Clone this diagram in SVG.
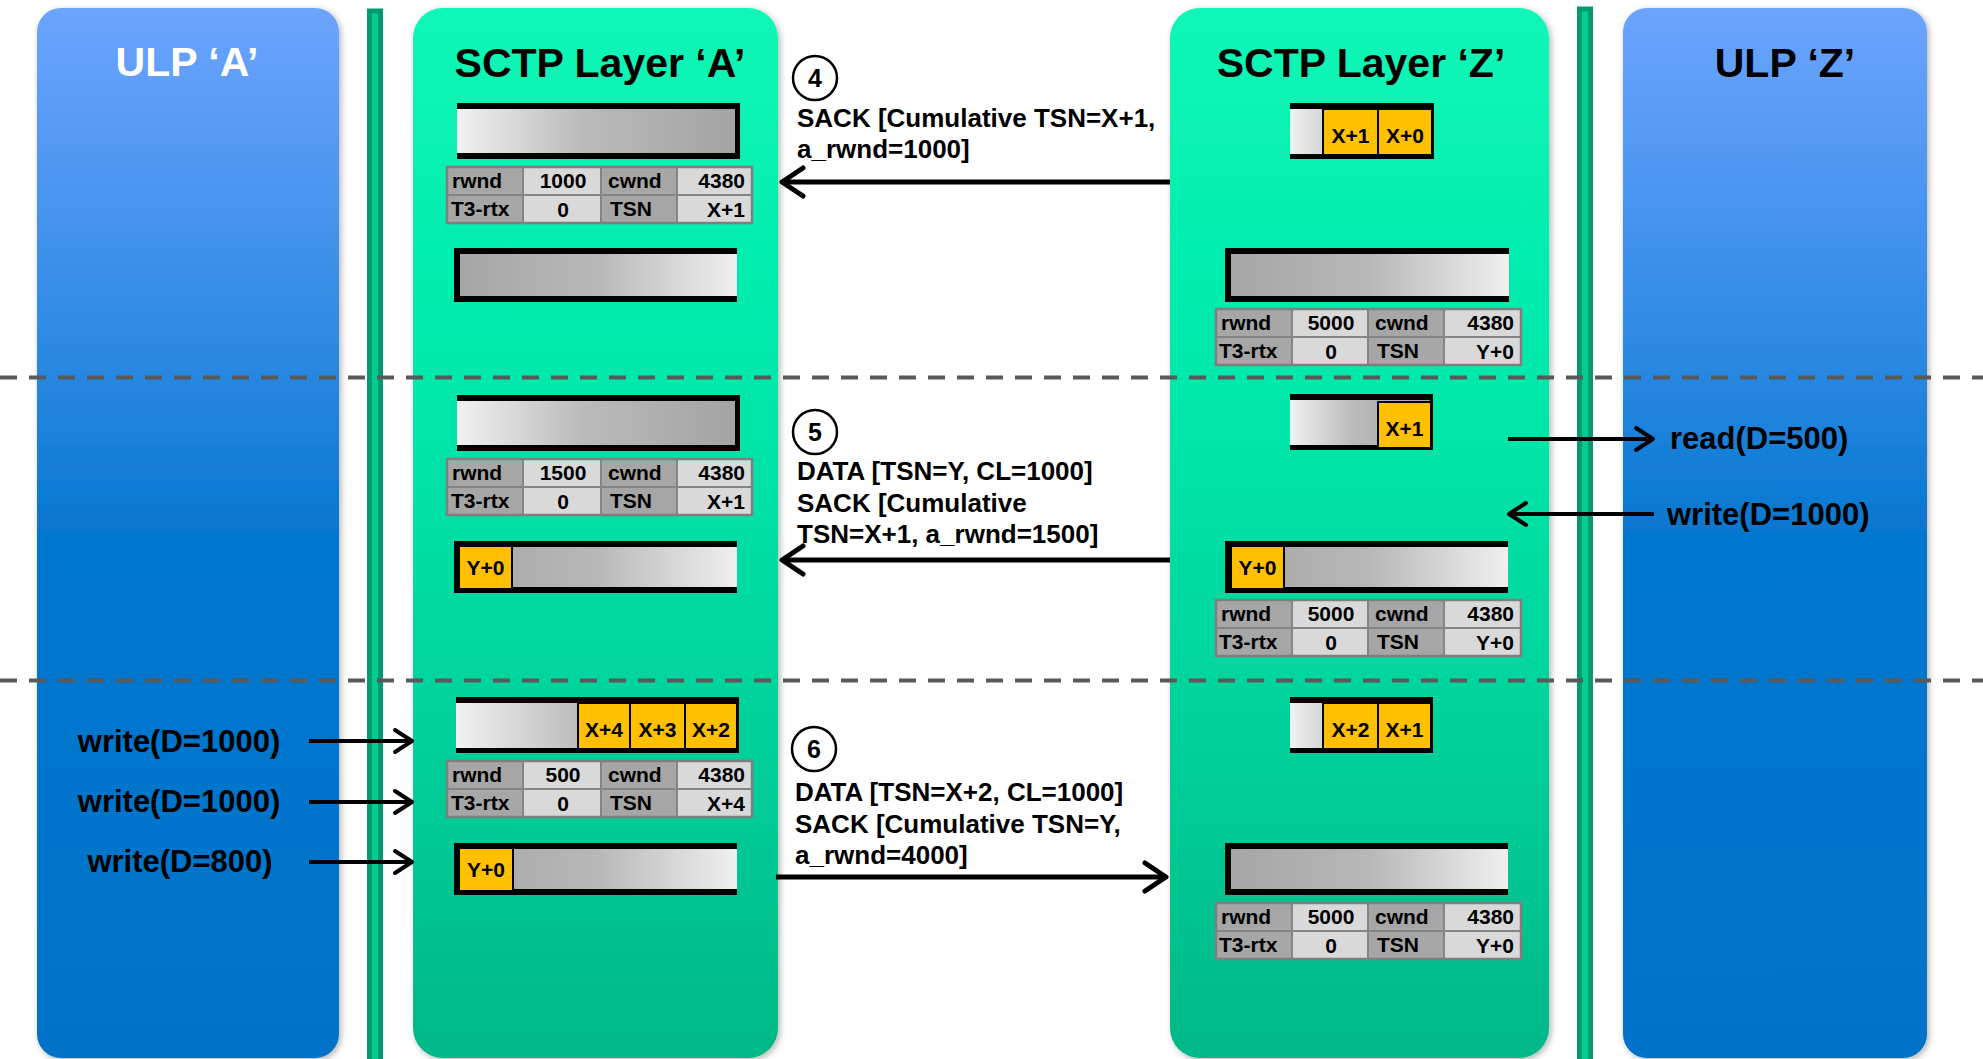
<svg xmlns="http://www.w3.org/2000/svg" width="1983" height="1059" viewBox="0 0 1983 1059">
<defs>
<style>
.t{font-family:"Liberation Sans",Arial,Helvetica,sans-serif;font-weight:bold;fill:#000}
.title{font-size:41px;text-anchor:middle}
.msg{font-size:26px}
.call{font-size:31px}
.cell{font-size:21px}
.mid{text-anchor:middle}
.end{text-anchor:end}
.lab{fill:#a6a6a6}
.val{fill:#d9d9d9}
.tbl{fill:none;stroke:#7f7f7f;stroke-width:2.5}
.grid{stroke:#858585;stroke-width:2}
.ocell{fill:#FFC000;stroke:#000;stroke-width:2}
.conn{fill:none;stroke:#000;stroke-width:5}
.small{fill:none;stroke:#000;stroke-width:4}
.dash{stroke:#595959;stroke-width:4;stroke-dasharray:17 12}
.bar{fill:#02CC94;stroke:#019B70;stroke-width:5}
</style>
<linearGradient id="gULP" x1="0" y1="0" x2="0" y2="1">
<stop offset="0" stop-color="#6CA4FF"/>
<stop offset="0.36" stop-color="#2686DF"/>
<stop offset="0.5" stop-color="#0677CF"/>
<stop offset="1" stop-color="#0573C8"/>
</linearGradient>
<linearGradient id="gSCTP" x1="0" y1="0" x2="0" y2="1">
<stop offset="0" stop-color="#08F7B6"/>
<stop offset="0.35" stop-color="#05E9AB"/>
<stop offset="0.65" stop-color="#04D49C"/>
<stop offset="1" stop-color="#06B888"/>
</linearGradient>
<linearGradient id="gBufR" x1="0" y1="0" x2="1" y2="0">
<stop offset="0" stop-color="#F2F2F2"/>
<stop offset="0.45" stop-color="#BBBBBB"/>
<stop offset="1" stop-color="#A3A3A3"/>
</linearGradient>
<linearGradient id="gBufL" x1="0" y1="0" x2="1" y2="0">
<stop offset="0" stop-color="#A6A6A6"/>
<stop offset="0.5" stop-color="#B8B8B8"/>
<stop offset="1" stop-color="#F0F0F0"/>
</linearGradient>
<filter id="sh" x="-5%" y="-5%" width="110%" height="110%">
<feDropShadow dx="2" dy="2" stdDeviation="3" flood-color="#000" flood-opacity="0.3"/>
</filter>
<marker id="chev" markerUnits="userSpaceOnUse" viewBox="-28 -18 34 36" markerWidth="34" markerHeight="36" refX="0" refY="0" orient="auto">
<path d="M-21,-14 L0,0 L-21,14" fill="none" stroke="#000" stroke-width="5" stroke-linecap="round" stroke-linejoin="round"/>
</marker>
<marker id="chevs" markerUnits="userSpaceOnUse" viewBox="-24 -16 30 32" markerWidth="30" markerHeight="32" refX="0" refY="0" orient="auto">
<path d="M-17,-11 L0,0 L-17,11" fill="none" stroke="#000" stroke-width="4" stroke-linecap="round" stroke-linejoin="round"/>
</marker>
</defs>

<rect width="1983" height="1059" fill="#fff"/>

<g id="ulp-a">
<rect x="37" y="8" width="302" height="1050" rx="24" fill="url(#gULP)" filter="url(#sh)"/>
<text class="t title" x="187" y="76" style="fill:#fff">ULP ‘A’</text>
</g>
<g id="bar-a"><rect class="bar" x="369.5" y="11" width="11" height="1060"/></g>
<g id="sctp-a">
<rect x="413" y="8" width="365" height="1050" rx="30" fill="url(#gSCTP)" filter="url(#sh)"/>
<text class="t title" x="600" y="77">SCTP Layer ‘A’</text>
</g>
<g id="sctp-z">
<rect x="1170" y="8" width="379" height="1050" rx="30" fill="url(#gSCTP)" filter="url(#sh)"/>
<text class="t title" x="1361" y="77">SCTP Layer ‘Z’</text>
</g>
<g id="bar-z"><rect class="bar" x="1579.5" y="9" width="11" height="1060"/></g>
<g id="ulp-z">
<rect x="1623" y="8" width="304" height="1050" rx="24" fill="url(#gULP)" filter="url(#sh)"/>
<text class="t title" x="1785" y="77">ULP ‘Z’</text>
</g>

<g id="separators">
<line class="dash" x1="0" y1="377.5" x2="1983" y2="377.5"/>
<line class="dash" x1="0" y1="680.5" x2="1983" y2="680.5"/>
</g>

<!-- Section 1 A -->
<g id="a1-sendq" transform="translate(457,103)">
<rect width="283" height="56" fill="#000"/><rect y="6" width="278" height="44" fill="url(#gBufR)"/>
</g>
<g id="a1-table" transform="translate(447,167)">
<rect width="305" height="56" class="val"/><rect width="76" height="56" class="lab"/><rect x="154" width="76" height="56" class="lab"/>
<line class="grid" x1="76" y1="0" x2="76" y2="56"/><line class="grid" x1="154" y1="0" x2="154" y2="56"/><line class="grid" x1="230" y1="0" x2="230" y2="56"/><line class="grid" x1="0" y1="28" x2="305" y2="28"/>
<rect width="305" height="56" class="tbl"/>
<text class="t cell" x="5" y="21">rwnd</text><text class="t cell mid" x="116" y="21">1000</text><text class="t cell" x="161" y="21">cwnd</text><text class="t cell end" x="298" y="21">4380</text>
<text class="t cell" x="4" y="49">T3-rtx</text><text class="t cell mid" x="116" y="50">0</text><text class="t cell" x="163" y="49">TSN</text><text class="t cell end" x="298" y="50">X+1</text>
</g>
<g id="a1-recvq" transform="translate(454,248)">
<rect width="283" height="54" fill="#000"/><rect x="6" y="6" width="277" height="42" fill="url(#gBufL)"/>
</g>

<!-- Section 2 A -->
<g id="a2-sendq" transform="translate(457,395)">
<rect width="283" height="56" fill="#000"/><rect y="6" width="278" height="44" fill="url(#gBufR)"/>
</g>
<g id="a2-table" transform="translate(447,459)">
<rect width="305" height="56" class="val"/><rect width="76" height="56" class="lab"/><rect x="154" width="76" height="56" class="lab"/>
<line class="grid" x1="76" y1="0" x2="76" y2="56"/><line class="grid" x1="154" y1="0" x2="154" y2="56"/><line class="grid" x1="230" y1="0" x2="230" y2="56"/><line class="grid" x1="0" y1="28" x2="305" y2="28"/>
<rect width="305" height="56" class="tbl"/>
<text class="t cell" x="5" y="21">rwnd</text><text class="t cell mid" x="116" y="21">1500</text><text class="t cell" x="161" y="21">cwnd</text><text class="t cell end" x="298" y="21">4380</text>
<text class="t cell" x="4" y="49">T3-rtx</text><text class="t cell mid" x="116" y="50">0</text><text class="t cell" x="163" y="49">TSN</text><text class="t cell end" x="298" y="50">X+1</text>
</g>
<g id="a2-recvq" transform="translate(454,541)">
<rect width="283" height="52" fill="#000"/><rect x="6" y="6" width="277" height="40" fill="url(#gBufL)"/>
<rect class="ocell" x="5" y="5" width="53" height="43"/><text class="t cell mid" x="31.5" y="34">Y+0</text>
</g>

<!-- Section 3 A -->
<g id="a3-sendq" transform="translate(456,697)">
<rect width="283" height="56" fill="#000"/><rect y="6" width="280" height="45" fill="url(#gBufR)"/>
<rect class="ocell" x="122" y="6" width="52" height="46"/><text class="t cell mid" x="148" y="40">X+4</text>
<rect class="ocell" x="174" y="6" width="55" height="46"/><text class="t cell mid" x="201.5" y="40">X+3</text>
<rect class="ocell" x="229" y="6" width="52" height="46"/><text class="t cell mid" x="255" y="40">X+2</text>
</g>
<g id="a3-table" transform="translate(447,761)">
<rect width="305" height="56" class="val"/><rect width="76" height="56" class="lab"/><rect x="154" width="76" height="56" class="lab"/>
<line class="grid" x1="76" y1="0" x2="76" y2="56"/><line class="grid" x1="154" y1="0" x2="154" y2="56"/><line class="grid" x1="230" y1="0" x2="230" y2="56"/><line class="grid" x1="0" y1="28" x2="305" y2="28"/>
<rect width="305" height="56" class="tbl"/>
<text class="t cell" x="5" y="21">rwnd</text><text class="t cell mid" x="116" y="21">500</text><text class="t cell" x="161" y="21">cwnd</text><text class="t cell end" x="298" y="21">4380</text>
<text class="t cell" x="4" y="49">T3-rtx</text><text class="t cell mid" x="116" y="50">0</text><text class="t cell" x="163" y="49">TSN</text><text class="t cell end" x="298" y="50">X+4</text>
</g>
<g id="a3-recvq" transform="translate(454,843)">
<rect width="283" height="52" fill="#000"/><rect x="6" y="6" width="277" height="40" fill="url(#gBufL)"/>
<rect class="ocell" x="5" y="5" width="54" height="43"/><text class="t cell mid" x="32" y="34">Y+0</text>
</g>

<!-- Section 1 Z -->
<g id="z1-recvq" transform="translate(1290,103)">
<rect width="144" height="56" fill="#000"/><rect y="6" width="141" height="45" fill="url(#gBufR)"/>
<rect class="ocell" x="33" y="6" width="55" height="46"/><text class="t cell mid" x="60.5" y="40">X+1</text>
<rect class="ocell" x="88" y="6" width="54" height="46"/><text class="t cell mid" x="115" y="40">X+0</text>
</g>
<g id="z1-sendq" transform="translate(1225,248)">
<rect width="284" height="54" fill="#000"/><rect x="6" y="6" width="278" height="42" fill="url(#gBufL)"/>
</g>
<g id="z1-table" transform="translate(1216,309)">
<rect width="305" height="56" class="val"/><rect width="76" height="56" class="lab"/><rect x="152" width="76" height="56" class="lab"/>
<line class="grid" x1="76" y1="0" x2="76" y2="56"/><line class="grid" x1="152" y1="0" x2="152" y2="56"/><line class="grid" x1="228" y1="0" x2="228" y2="56"/><line class="grid" x1="0" y1="28" x2="305" y2="28"/>
<rect width="305" height="56" class="tbl"/>
<text class="t cell" x="5" y="21">rwnd</text><text class="t cell mid" x="115" y="21">5000</text><text class="t cell" x="159" y="21">cwnd</text><text class="t cell end" x="298" y="21">4380</text>
<text class="t cell" x="3" y="49">T3-rtx</text><text class="t cell mid" x="115" y="50">0</text><text class="t cell" x="161" y="49">TSN</text><text class="t cell end" x="298" y="50">Y+0</text>
</g>

<!-- Section 2 Z -->
<g id="z2-recvq" transform="translate(1290,394)">
<rect width="143" height="56" fill="#000"/><rect y="6" width="140" height="45" fill="url(#gBufR)"/>
<rect class="ocell" x="88" y="8" width="53" height="46"/><text class="t cell mid" x="114.5" y="42">X+1</text>
</g>
<g id="z2-sendq" transform="translate(1225,541)">
<rect width="283" height="52" fill="#000"/><rect x="6" y="6" width="277" height="40" fill="url(#gBufL)"/>
<rect class="ocell" x="6" y="5" width="53" height="43"/><text class="t cell mid" x="32.5" y="34">Y+0</text>
</g>
<g id="z2-table" transform="translate(1216,600)">
<rect width="305" height="56" class="val"/><rect width="76" height="56" class="lab"/><rect x="152" width="76" height="56" class="lab"/>
<line class="grid" x1="76" y1="0" x2="76" y2="56"/><line class="grid" x1="152" y1="0" x2="152" y2="56"/><line class="grid" x1="228" y1="0" x2="228" y2="56"/><line class="grid" x1="0" y1="28" x2="305" y2="28"/>
<rect width="305" height="56" class="tbl"/>
<text class="t cell" x="5" y="21">rwnd</text><text class="t cell mid" x="115" y="21">5000</text><text class="t cell" x="159" y="21">cwnd</text><text class="t cell end" x="298" y="21">4380</text>
<text class="t cell" x="3" y="49">T3-rtx</text><text class="t cell mid" x="115" y="50">0</text><text class="t cell" x="161" y="49">TSN</text><text class="t cell end" x="298" y="50">Y+0</text>
</g>

<!-- Section 3 Z -->
<g id="z3-recvq" transform="translate(1290,697)">
<rect width="143" height="56" fill="#000"/><rect y="6" width="140" height="45" fill="url(#gBufR)"/>
<rect class="ocell" x="33" y="6" width="55" height="46"/><text class="t cell mid" x="60.5" y="40">X+2</text>
<rect class="ocell" x="88" y="6" width="53" height="46"/><text class="t cell mid" x="114.5" y="40">X+1</text>
</g>
<g id="z3-sendq" transform="translate(1225,843)">
<rect width="283" height="52" fill="#000"/><rect x="6" y="6" width="277" height="40" fill="url(#gBufL)"/>
</g>
<g id="z3-table" transform="translate(1216,903)">
<rect width="305" height="56" class="val"/><rect width="76" height="56" class="lab"/><rect x="152" width="76" height="56" class="lab"/>
<line class="grid" x1="76" y1="0" x2="76" y2="56"/><line class="grid" x1="152" y1="0" x2="152" y2="56"/><line class="grid" x1="228" y1="0" x2="228" y2="56"/><line class="grid" x1="0" y1="28" x2="305" y2="28"/>
<rect width="305" height="56" class="tbl"/>
<text class="t cell" x="5" y="21">rwnd</text><text class="t cell mid" x="115" y="21">5000</text><text class="t cell" x="159" y="21">cwnd</text><text class="t cell end" x="298" y="21">4380</text>
<text class="t cell" x="3" y="49">T3-rtx</text><text class="t cell mid" x="115" y="50">0</text><text class="t cell" x="161" y="49">TSN</text><text class="t cell end" x="298" y="50">Y+0</text>
</g>

<!-- Step labels -->
<g id="step4">
<circle cx="815" cy="78" r="22" fill="#fff" stroke="#000" stroke-width="2.5"/>
<text class="t mid" x="815" y="87" style="font-size:25px">4</text>
<text class="t msg" x="797" y="127">SACK [Cumulative TSN=X+1,</text>
<text class="t msg" x="797" y="158">a_rwnd=1000]</text>
</g>
<g id="step5">
<circle cx="815" cy="432" r="22" fill="#fff" stroke="#000" stroke-width="2.5"/>
<text class="t mid" x="815" y="441" style="font-size:25px">5</text>
<text class="t msg" x="797" y="480">DATA [TSN=Y, CL=1000]</text>
<text class="t msg" x="797" y="512">SACK [Cumulative</text>
<text class="t msg" x="797" y="543">TSN=X+1, a_rwnd=1500]</text>
</g>
<g id="step6">
<circle cx="814" cy="749" r="22" fill="#fff" stroke="#000" stroke-width="2.5"/>
<text class="t mid" x="814" y="758" style="font-size:25px">6</text>
<text class="t msg" x="795" y="801">DATA [TSN=X+2, CL=1000]</text>
<text class="t msg" x="795" y="833">SACK [Cumulative TSN=Y,</text>
<text class="t msg" x="795" y="864">a_rwnd=4000]</text>
</g>

<g id="calls-a">
<text class="t call mid" x="179" y="752">write(D=1000)</text>
<text class="t call mid" x="179" y="812">write(D=1000)</text>
<text class="t call mid" x="180" y="872">write(D=800)</text>
</g>
<g id="calls-z">
<text class="t call" x="1670" y="449">read(D=500)</text>
<text class="t call" x="1667" y="525">write(D=1000)</text>
</g>

<g id="connectors">
<line class="conn" x1="1170" y1="182" x2="782" y2="182" marker-end="url(#chev)"/>
<line class="conn" x1="1170" y1="560" x2="782" y2="560" marker-end="url(#chev)"/>
<line class="conn" x1="776" y1="877" x2="1166" y2="877" marker-end="url(#chev)"/>
<line class="small" x1="309" y1="741" x2="412" y2="741" marker-end="url(#chevs)"/>
<line class="small" x1="309" y1="802" x2="412" y2="802" marker-end="url(#chevs)"/>
<line class="small" x1="309" y1="862" x2="412" y2="862" marker-end="url(#chevs)"/>
<line class="small" x1="1508" y1="439" x2="1653" y2="439" marker-end="url(#chevs)"/>
<line class="small" x1="1654" y1="514" x2="1509" y2="514" marker-end="url(#chevs)"/>
</g>
</svg>
